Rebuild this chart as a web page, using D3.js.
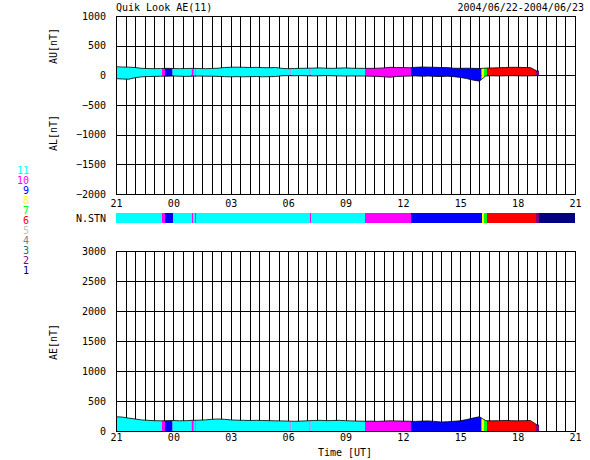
<!DOCTYPE html>
<html>
<head>
<meta charset="UTF-8">
<title>Quik Look AE(11)</title>
<style>
  body { margin: 0; background: #fff; }
  svg text { font-family: "DejaVu Sans Mono", monospace; font-size: 10px; fill: #000; }
  .grid line { stroke: #000; stroke-width: 1; shape-rendering: crispEdges; }
  .grid .domain { display: none; }
  .lbl .domain, .lbl line { display: none; }
  .frame { fill: none; stroke: #000; stroke-width: 1; shape-rendering: crispEdges; }
  .edge { fill: none; stroke: #000; stroke-width: 0.8; }
</style>
</head>
<body>
<script src="https://cdn.jsdelivr.net/npm/d3@7"></script>
<svg id="chart" width="590" height="460"></svg>
<script>
// samples every 20 min from 21 UT (06/22), last one at end of data
var auValues = [145,140,138,132,118,115,112,115,118,115,112,115,118,115,112,116,120,132,136,138,
                135,132,135,130,128,132,118,112,115,118,120,122,125,120,118,122,125,120,118,118,
                118,120,125,135,132,130,128,135,140,138,135,132,130,120,118,120,118,115,122,125,
                128,132,135,135,132,130,75,70];
var alValues = [-55,-62,-65,-40,-25,-20,-18,-15,-15,-12,-15,-18,-15,-12,-15,-15,-18,-22,-25,-22,
                -25,-22,-20,-25,-22,-20,-8,-5,-8,-5,-8,-10,-8,-5,-8,-10,-12,-10,-12,-12,
                -15,-18,-25,-32,-20,-15,-12,-10,-15,-12,-18,-20,-15,-22,-35,-55,-80,-98,-10,-8,
                -10,-8,-6,-8,-10,-8,-5,-5];
var aeValues = [238,232,215,200,185,178,172,170,172,175,170,172,178,180,185,195,200,195,185,180,
                178,175,178,175,172,170,168,165,162,165,170,175,178,172,175,178,172,168,165,162,
                165,160,165,170,168,165,162,160,165,168,160,150,155,162,170,190,215,238,172,170,
                172,175,172,170,172,175,105,95];
var sampleHours = d3.range(0, 66.5).map(function (i) { return i / 3; }).concat([22.12]);

// number of stations: segment start (hours after 21 UT) and count
var stnStart = [0, 2.41, 2.56, 2.96, 3.95, 4.04, 4.13, 4.17, 9.13, 9.17, 10.12, 10.17, 13.02, 15.42, 19.12, 19.24, 19.4, 21.96, 22.12];
var stnCount = [11, 10, 9, 11, 10, 11, 10, 11, 10, 11, 10, 11, 10, 9, 8, 7, 6, 2, 1];
var stnColors = {11: "#00ffff", 10: "#ff00ff", 9: "#0000ff", 8: "#ffff00", 7: "#00ff00", 6: "#ff0000",
                 5: "#c0c0c0", 4: "#808080", 3: "#008080", 2: "#800080", 1: "#000080"};

var hourTicks = [0, 3, 6, 9, 12, 15, 18, 21, 24];
var hourLabels = ["21", "00", "03", "06", "09", "12", "15", "18", "21"];
var upperTicks = [1000, 500, 0, -500, -1000, -1500, -2000];
var lowerTicks = [3000, 2500, 2000, 1500, 1000, 500, 0];

var svg = d3.select("#chart");
var left = 116, right = 575;

var x = d3.scaleLinear().domain([0, 24]).range([left, right]);
var yUp = d3.scaleLinear().domain([-2000, 1000]).range([194, 16]);
var yLo = d3.scaleLinear().domain([0, 3000]).range([431, 251]);

var segs = stnStart.map(function (s, i) {
    return { start: s, end: i + 1 < stnStart.length ? stnStart[i + 1] : 24, n: stnCount[i] };
});

var defs = svg.append("defs");
segs.forEach(function (s, i) {
    defs.append("clipPath").attr("id", "seg" + i)
        .append("rect")
        .attr("x", x(s.start)).attr("y", 0)
        .attr("width", x(s.end) - x(s.start)).attr("height", 460);
});

var data = sampleHours.map(function (t, i) {
    return { t: t, au: auValues[i], al: alValues[i], ae: aeValues[i] };
});

function panel(y, ticks, top, bottom) {
    var g = svg.append("g");
    var halfHours = d3.range(0, 48.5).map(function (k) { return k / 2; });
    g.append("g").attr("class", "grid")
        .attr("transform", "translate(0," + bottom + ")")
        .call(d3.axisBottom(x).tickValues(halfHours).tickSize(-(bottom - top)).tickFormat(""));
    g.append("g").attr("class", "grid")
        .attr("transform", "translate(" + left + ",0)")
        .call(d3.axisLeft(y).tickValues(ticks).tickSize(-(right - left)).tickPadding(10).tickFormat(d3.format("d")));
    return g;
}

// upper panel: AU / AL
panel(yUp, upperTicks, 16, 194);
var bandUp = d3.area().x(function (d) { return x(d.t); })
    .y0(function (d) { return yUp(d.al); }).y1(function (d) { return yUp(d.au); });
segs.forEach(function (s, i) {
    svg.append("path").datum(data).attr("clip-path", "url(#seg" + i + ")")
        .attr("fill", stnColors[s.n]).attr("d", bandUp);
});
svg.append("path").datum(data).attr("class", "edge")
    .attr("d", d3.line().x(function (d) { return x(d.t); }).y(function (d) { return yUp(d.au); }));
svg.append("path").datum(data).attr("class", "edge")
    .attr("d", d3.line().x(function (d) { return x(d.t); }).y(function (d) { return yUp(d.al); }));
svg.append("line").attr("x1", x(22.12)).attr("x2", right).attr("y1", Math.round(yUp(0)) + 0.5).attr("y2", Math.round(yUp(0)) + 0.5)
    .attr("stroke", "#000").attr("shape-rendering", "crispEdges");
svg.append("rect").attr("class", "frame")
    .attr("x", left + 0.5).attr("y", 16.5).attr("width", right - left).attr("height", 178);
svg.append("g").attr("class", "lbl")
    .attr("transform", "translate(0,194)")
    .call(d3.axisBottom(x).tickValues(hourTicks).tickSize(0).tickPadding(6)
        .tickFormat(function (d, i) { return hourLabels[i]; }));

// station count bar
svg.append("g").selectAll("rect").data(segs).enter().append("rect")
    .attr("x", function (d) { return x(d.start); })
    .attr("width", function (d) { return x(d.end) - x(d.start); })
    .attr("y", 213).attr("height", 10)
    .attr("fill", function (d) { return stnColors[d.n]; })
    .attr("shape-rendering", "crispEdges");
svg.append("text").attr("x", 106).attr("y", 222).attr("text-anchor", "end").text("N.STN");

// lower panel: AE
panel(yLo, lowerTicks, 251, 431);
var bandLo = d3.area().x(function (d) { return x(d.t); })
    .y0(yLo(0)).y1(function (d) { return yLo(d.ae); });
segs.forEach(function (s, i) {
    svg.append("path").datum(data).attr("clip-path", "url(#seg" + i + ")")
        .attr("fill", stnColors[s.n]).attr("d", bandLo);
});
svg.append("path").datum(data).attr("class", "edge")
    .attr("d", d3.line().x(function (d) { return x(d.t); }).y(function (d) { return yLo(d.ae); }));
svg.append("rect").attr("class", "frame")
    .attr("x", left + 0.5).attr("y", 251.5).attr("width", right - left).attr("height", 180);
svg.append("g").attr("class", "lbl")
    .attr("transform", "translate(0,431)")
    .call(d3.axisBottom(x).tickValues(hourTicks).tickSize(0).tickPadding(3)
        .tickFormat(function (d, i) { return hourLabels[i]; }));

// titles and axis names
svg.append("text").attr("x", 116).attr("y", 11).text("Quik Look AE(11)");
svg.append("text").attr("x", 584).attr("y", 11).attr("text-anchor", "end").text("2004/06/22-2004/06/23");
svg.append("text").attr("x", 345).attr("y", 456).attr("text-anchor", "middle").text("Time [UT]");
[["AU[nT]", 46], ["AL[nT]", 133], ["AE[nT]", 342]].forEach(function (a) {
    svg.append("text").attr("text-anchor", "middle")
        .attr("transform", "translate(57," + a[1] + ") rotate(-90)").text(a[0]);
});

// station count legend
svg.append("g").selectAll("text").data(d3.range(11, 0, -1)).enter().append("text")
    .attr("x", 29).attr("y", function (d, i) { return 174 + i * 10; })
    .attr("text-anchor", "end")
    .attr("fill", function (d) { return stnColors[d]; })
    .style("fill", function (d) { return stnColors[d]; })
    .text(function (d) { return d; });
</script>
</body>
</html>
